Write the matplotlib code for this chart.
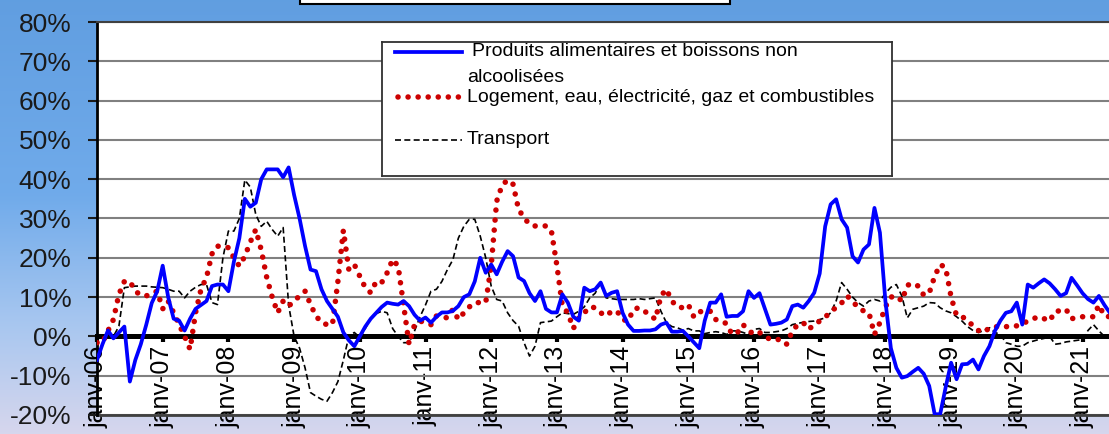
import numpy as np
import matplotlib
matplotlib.use("Agg")
import matplotlib.pyplot as plt
from matplotlib.patches import Rectangle

plt.rcParams['font.family'] = ['Liberation Sans', 'DejaVu Sans']

# Glissement annuel mensuel (%), janvier 2006 -> juin 2021
alimentation = [
    -6, -2, 1.5, -0.5, 1, 2.5, -11.5, -6, -2, 3, 8.5, 11.5,
    18, 10, 4.5, 4, 1.5, 4.5, 7, 8, 9, 12.8, 13.2, 13.2,
    11.5, 19, 25, 35, 33, 34, 40, 42.5, 42.5, 42.5, 40.5, 43,
    36, 30, 23, 17, 16.6, 12, 9, 7, 5, 1, -1, -2.5,
    0, 2.5, 4.5, 6, 7.5, 8.6, 8.3, 8.1, 9, 7.7, 5.5, 4,
    4.8, 3.5, 5, 6.1, 6.1, 6.5, 7.7, 10, 10.7, 14, 20, 16.2,
    18.3, 15.8, 19, 21.7, 20.4, 15, 14.1, 11, 9, 11.5, 7, 6.1,
    6.1, 10.7, 8.6, 5, 4, 12.4, 11.5, 12, 13.7, 10.3, 11.1, 11.5,
    6, 3, 1.4, 1.4, 1.5, 1.5, 1.8, 3, 3.5, 1.2, 1.2, 1.4,
    0, -1.5, -3, 4, 8.6, 8.6, 10.7, 5, 5.2, 5.2, 6.4, 11.5,
    9.8, 11, 7, 3, 3.2, 3.5, 4.3, 7.7, 8.1, 7.3, 9, 11.1,
    16, 28, 33.6, 34.9, 29.8, 27.7, 20.4, 18.8, 22.1, 23.4, 32.7, 26.4,
    9, -3, -8, -10.5, -10.1, -9, -8, -9.5, -12.6, -19.8, -19.8, -13,
    -6.7, -10.9, -7.1, -7, -5.9, -8.4, -5, -2.5, 1.4, 4, 6, 6.4,
    8.6, 3, 13.2, 12.4, 13.5, 14.5, 13.5, 12, 10.3, 11, 14.9, 13,
    11, 9.5, 8.6, 10.3, 8, 6,
]

logement = [
    -1.6, -1.6, 1.4, 4.3, 10.7, 14, 14, 11.5, 10.5, 10.3, 11, 11.5,
    7, 9, 6, 3, 0, -3.3, 6, 12, 15, 21, 23, 22.6,
    22.6, 20, 17.9, 20.4, 24, 27.2, 22, 15, 10, 6, 9, 7.7,
    9, 10.3, 11.5, 8.1, 5.2, 3.5, 3, 3, 14, 27, 17, 18.3,
    15.3, 12.4, 11.1, 14, 13.7, 16.2, 19.6, 17.9, 8, -2, 3, 3.9,
    3.5, 3, 5.2, 5, 4.7, 6.9, 4.3, 6, 7.5, 8.6, 8.6, 8.6,
    18, 34.4, 38.5, 39.8, 38.7, 32.3, 30.2, 28.5, 28.1, 28.1, 28.1, 26.8,
    18, 7.7, 6, 2, 4.7, 6, 7.5, 7.3, 6, 5.2, 6.4, 6.4,
    4.3, 3.9, 6.9, 7.3, 6.4, 5.5, 4.3, 10.3, 12, 9, 7.5, 7.3,
    8.1, 5, 6.4, 6, 6.4, 4.3, 4, 3.2, 0.5, 1, 3, 1.5,
    0.5, 1, 0, -0.8, -0.8, -0.8, -2, 1.4, 3, 3.5, 1.8, 3,
    3.9, 5, 6, 7.5, 8.5, 10.3, 9, 7.3, 6.5, 6, 0.5, 3.5,
    7.5, 10, 10.3, 9, 13, 13.5, 12.8, 10.5, 11, 15.3, 18.3, 17.5,
    10, 5.3, 5, 4.2, 2.6, 1.5, 1, 2.2, 2.4, 2.6, 2.5, 2.4,
    2.7, 3.2, 3.9, 4.5, 5, 4.5, 3.9, 6.4, 6.5, 6.9, 4.5, 4.8,
    5, 5, 5, 8, 5.2, 5,
]

transport = [
    0, 0, 0, 0, 2.6, 12.4, 12.6, 12.8, 12.8, 12.8, 12.6, 12.5,
    12.4, 12, 11.5, 11.5, 9.8, 11.5, 12.5, 13.2, 13.2, 8.6, 8.1, 20,
    26.8, 26.8, 30, 39.8, 38, 31, 28, 29.3, 27.2, 25.5, 27.7, 8,
    0, -3, -8, -14.3, -15.2, -16, -16.5, -14.3, -11.5, -6, 0, 1,
    -0.3, 2, 4.5, 5.8, 6.4, 6, 2, 0, -1.6, -1.6, 1.4, 5,
    8, 11.5, 12, 14, 17, 19.5, 25, 28, 29.8, 29.8, 25.5, 20,
    12.8, 9.4, 9, 6, 4, 2.6, -1.6, -5, -2.5, 3.5, 3.7, 3.9,
    5, 6, 5.8, 5.6, 6.4, 7.5, 9.8, 11, 13.7, 9.8, 9.6, 9.4,
    9.4, 9.4, 9.4, 9.6, 9.4, 9.6, 9.8, 6.4, 3.5, 2.5, 2.2, 1.6,
    2, 1.4, 1.4, 0.7, 1, 1.2, 1, 0.5, 1.4, 1.4, 1, 0.5,
    1.8, 2, 1, 1, 1.2, 1.4, 2, 3, 3.3, 3.6, 3.8, 3.9,
    4.3, 4.7, 6, 9, 13.7, 12, 10, 8.6, 7.7, 9, 9.4, 9,
    11, 12.5, 13.2, 10.3, 4.7, 6.9, 7.3, 7.7, 8.6, 8.5, 7.3, 6.5,
    6, 5, 3.9, 2.5, 1.5, 1, 1.5, 2.2, 1, 0.5, -1.6, -2,
    -2.5, -2.5, -1.6, -1.2, -0.8, -0.5, 0, -2, -1.8, -1.4, -1.2, -1,
    -0.8, 1.5, 3, 1.4, 0, 0,
]

year_labels = ["janv-06", "janv-07", "janv-08", "janv-09", "janv-10", "janv-11",
               "janv-12", "janv-13", "janv-14", "janv-15", "janv-16", "janv-17",
               "janv-18", "janv-19", "janv-20", "janv-21"]

series_names = ["Produits alimentaires et boissons non\nalcoolisées",
                "Logement, eau, électricité, gaz et combustibles",
                "Transport"]

W, H = 1109, 434
fig = plt.figure(figsize=(W / 100, H / 100), dpi=100)

# Fond dégradé bleu -> lavande
bg = fig.add_axes([0, 0, 1, 1], zorder=-10)
t = np.linspace(0, 1, 256)[:, None]
stops = np.array([0.0, 0.45, 0.75, 1.0])
cols = np.array([[0.38, 0.62, 0.88], [0.44, 0.67, 0.92],
                 [0.66, 0.78, 0.94], [0.84, 0.84, 0.93]])
grad = np.stack([np.interp(t[:, 0], stops, cols[:, k]) for k in range(3)], axis=1)
bg.imshow(grad[:, None, :], aspect='auto', extent=[0, 1, 0, 1], origin='upper')
bg.set_axis_off()

# Zone de tracé
x_px0, y_top, y_bot = 97, 22, 415
ax = fig.add_axes([x_px0 / W, 1 - y_bot / H, 1 - x_px0 / W, (y_bot - y_top) / H])
ax.set_facecolor('white')

months = np.arange(len(alimentation))
px_per_month = 65.7 / 12
ax.set_xlim(0, (W - x_px0) / px_per_month)
ax.set_ylim(-20, 80)

dot_style = (0, (0.01, 1.8))
ax.plot(months, transport, color='black', lw=1.2, linestyle=(0, (3.6, 2.0)), zorder=3)
ax.plot(months, logement, color='#CC0000', lw=4.0, linestyle=dot_style,
        dash_capstyle='round', zorder=3)
ax.plot(months, alimentation, color='#0000FF', lw=2.7, zorder=4)

yt = np.arange(-20, 81, 10)
ax.set_yticks(yt)
ax.set_yticklabels([f"{v}%" for v in yt])
ax.yaxis.grid(True, color='#808080', lw=1.5)
ax.set_axisbelow(True)
ax.axhline(-20, color='#404040', lw=2, clip_on=False, zorder=2)

ax.set_xticks(np.arange(0, 12 * len(year_labels), 12))
ax.set_xticklabels(year_labels)
ax.tick_params(axis='x', direction='out', length=4, width=3, pad=3,
               labelsize=18, labelrotation=90, colors='black')
ax.tick_params(axis='y', direction='out', length=6.5, width=1.5, pad=12,
               labelsize=19, colors='#1a1a1a')

ax.spines['bottom'].set_position(('data', 0))
ax.spines['bottom'].set_linewidth(3.6)
ax.spines['bottom'].set_color('black')
ax.spines['left'].set_linewidth(2)
ax.spines['left'].set_color('black')
ax.spines['top'].set_linewidth(1.5)
ax.spines['top'].set_color('#404040')
ax.spines['right'].set_visible(False)

# Légende
lx0, ly0, lx1, ly1 = 382, 42, 892, 176
lg = fig.add_axes([lx0 / W, 1 - ly1 / H, (lx1 - lx0) / W, (ly1 - ly0) / H], zorder=5)
lg.set_xlim(0, lx1 - lx0)
lg.set_ylim(ly1 - ly0, 0)
lg.set_facecolor('white')
lg.set_xticks([])
lg.set_yticks([])
for s in lg.spines.values():
    s.set_color('#303030')
    s.set_linewidth(1.3)
lg.plot([13, 80], [10, 10], color='#0000FF', lw=2.7)
lg.plot([16, 80], [55, 55], color='#CC0000', lw=4.0, linestyle=dot_style,
        dash_capstyle='round')
lg.plot([13, 80], [98, 98], color='black', lw=1.2, linestyle=(0, (3.6, 2.0)))
first, second = series_names[0].split("\n")
lg.text(90, 10, first, fontsize=14, va='center', ha='left')
lg.text(85, 35, second, fontsize=14, va='center', ha='left')
lg.text(85, 55, series_names[1], fontsize=14, va='center', ha='left')
lg.text(85, 98, series_names[2], fontsize=14, va='center', ha='left')

# Cadre du titre (en haut)
fig.add_artist(Rectangle((300 / W, 1 - 4 / H), 430 / W, 0.2, transform=fig.transFigure,
                         facecolor='white', edgecolor='black', lw=1.5, clip_on=False))

fig.savefig("out.png", dpi=100)
